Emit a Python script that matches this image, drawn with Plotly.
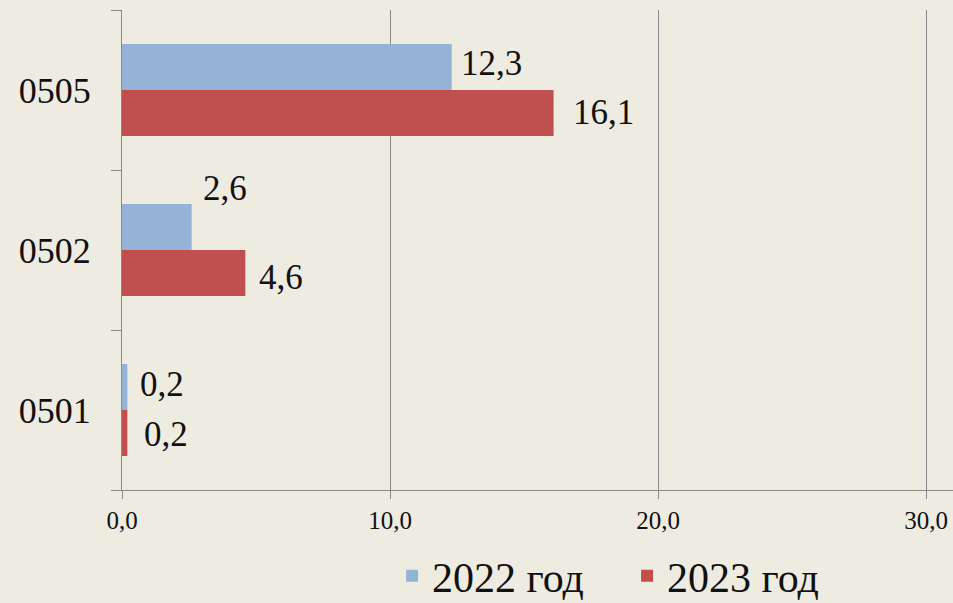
import plotly.graph_objects as go

categories = ["0501", "0502", "0505"]
values_2022 = [0.2, 2.6, 12.3]
values_2023 = [0.2, 4.6, 16.1]
series_names = ["2022 год", "2023 год"]
x_ticks = [0, 10, 20, 30]

BLUE = "#95B3D7"
RED = "#C0504D"
BG = "#EEEBE1"
GRID = "#8A8A8A"
FONT = "'Liberation Serif', 'DejaVu Serif', serif"

def fmt(v):
    return f"{v:.1f}".replace(".", ",")

fig = go.Figure()
# 2023 first so that 2022 sits on top within each group
fig.add_trace(go.Bar(y=categories, x=values_2023, name=series_names[1], orientation="h",
                     marker=dict(color=RED, line=dict(width=0)), legendrank=2))
fig.add_trace(go.Bar(y=categories, x=values_2022, name=series_names[0], orientation="h",
                     marker=dict(color=BLUE, line=dict(width=0)), legendrank=1))

# label offsets (pixel): (xshift, yshift)
off_2022 = [(11, 26), (9, 62), (7, 27)]
off_2023 = [(15, -24), (12, -27), (17, -22)]

for i, c in enumerate(categories):
    for vals, offs in ((values_2022, off_2022), (values_2023, off_2023)):
        fig.add_annotation(x=vals[i], y=i, xref="x", yref="y", text=fmt(vals[i]),
                           showarrow=False, xanchor="left", yanchor="middle",
                           xshift=offs[i][0], yshift=offs[i][1],
                           font=dict(family=FONT, size=35, color="#111111"))

fig.update_layout(
    width=953, height=603,
    margin=dict(l=122, r=0, t=10, b=113, autoexpand=False),
    paper_bgcolor=BG, plot_bgcolor=BG,
    barmode="group", bargap=0.425, bargroupgap=0,
    separators=", ",
    showlegend=True,
    legend=dict(orientation="h", x=0.325, xanchor="left", y=-0.108, yanchor="top",
                font=dict(family=FONT, size=42, color="#111111"),
                bgcolor="rgba(0,0,0,0)", entrywidth=190, entrywidthmode="pixels",
                itemclick=False),
    font=dict(family=FONT, color="#111111"),
)
fig.update_xaxes(range=[0, 31], tickvals=x_ticks, tickformat=".1f",
                 showgrid=True, gridcolor=GRID, gridwidth=1,
                 showline=True, linecolor=GRID, linewidth=1,
                 ticks="outside", ticklen=8, tickcolor=GRID,
                 tickfont=dict(family=FONT, size=25, color="#111111"),
                 zeroline=False, fixedrange=True)
fig.update_yaxes(type="category", categoryorder="array", categoryarray=categories,
                 range=[-0.5, len(categories) - 0.5],
                 showgrid=False, showline=True, linecolor=GRID, linewidth=1,
                 ticks="outside", ticklen=10, tickcolor=GRID, tickson="boundaries",
                 ticklabelstandoff=23,
                 tickfont=dict(family=FONT, size=36, color="#111111"),
                 zeroline=False, fixedrange=True)

fig.write_html("out.html", config={"displayModeBar": False},
               post_script="document.body.style.margin='0';document.body.style.overflow='hidden';")
